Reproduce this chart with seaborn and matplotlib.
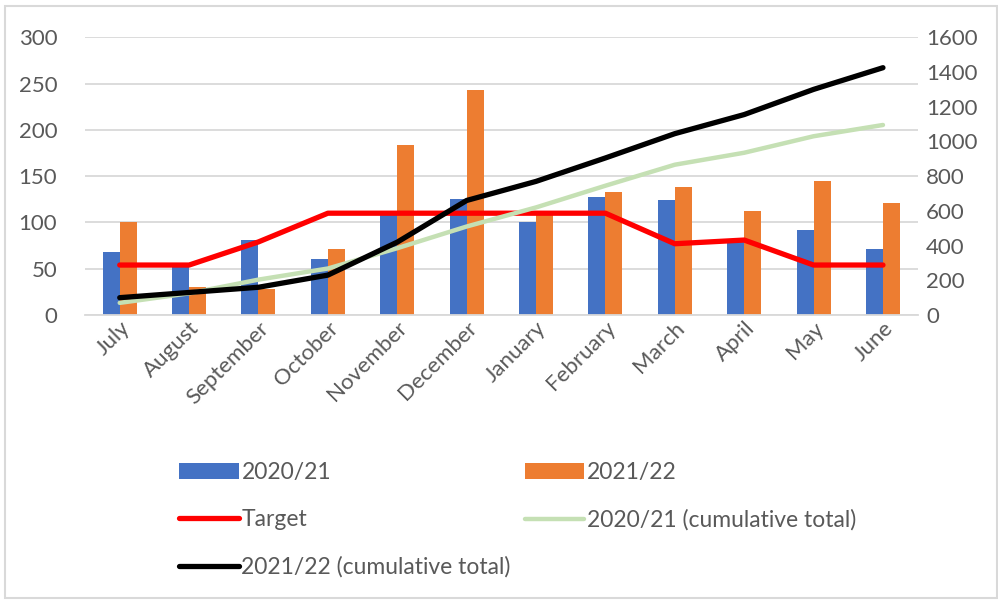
import numpy as np
import pandas as pd
import matplotlib
matplotlib.use("Agg")
import matplotlib.pyplot as plt
import seaborn as sns
from matplotlib.patches import Patch, Rectangle

months = ["July", "August", "September", "October", "November", "December",
          "January", "February", "March", "April", "May", "June"]
season_2021 = [68, 52, 81, 60, 110, 125, 101, 127, 124, 80, 92, 71]
season_2122 = [100, 30, 28, 71, 184, 243, 110, 133, 138, 112, 145, 121]
target = [54, 54, 79, 110, 110, 110, 110, 110, 77, 81, 54, 54]
cum_2021 = [70, 125, 204, 268, 385, 510, 620, 745, 866, 935, 1030, 1095]
cum_2122 = [100, 130, 160, 230, 420, 660, 770, 905, 1045, 1155, 1300, 1425]

left_ticks = [0, 50, 100, 150, 200, 250, 300]
right_ticks = [0, 200, 400, 600, 800, 1000, 1200, 1400, 1600]

blue = "#4472C4"
orange = "#ED7D31"
grey_text = "#595959"
grid_col = "#D9D9D9"

sns.set_theme(style="white")
plt.rcParams["font.family"] = ["Lato", "DejaVu Sans"]

df = pd.DataFrame({
    "month": months * 2,
    "value": season_2021 + season_2122,
    "season": ["2020/21"] * 12 + ["2021/22"] * 12,
})

fig = plt.figure(figsize=(9.98, 6.02), dpi=100)
ax = fig.add_axes([0.0852, 0.4767, 0.8343, 0.4613])

# bars (primary axis)
sns.barplot(data=df, x="month", y="value", hue="season", palette=[blue, orange],
            width=0.49, saturation=1, gap=0, linewidth=0, legend=False, ax=ax,
            zorder=2)

pos = np.arange(len(months))
# target line on primary axis
sns.lineplot(x=pos, y=target, color="#FF0000", linewidth=3.8, ax=ax,
             legend=False, zorder=3)
ax.lines[-1].set_solid_capstyle("round")
ax.lines[-1].set_solid_joinstyle("round")

ax.set_ylim(0, 300)
ax.set_xlim(-0.5, len(months) - 0.5)
ax.set_yticks(left_ticks)
ax.yaxis.grid(True, color=grid_col, linewidth=1.3)
ax.set_axisbelow(True)
ax.set_xlabel("")
ax.set_ylabel("")
for s in ["top", "right", "left"]:
    ax.spines[s].set_visible(False)
ax.spines["bottom"].set_color(grid_col)
ax.spines["bottom"].set_linewidth(1.3)
ax.tick_params(axis="y", length=0, pad=20, labelsize=16, labelcolor=grey_text)
ax.tick_params(axis="x", length=0, pad=2, labelsize=16, labelcolor=grey_text)
ax.set_xticks(pos)
ax.set_xticklabels(months, rotation=45, ha="right", rotation_mode="anchor")

# cumulative totals (secondary axis)
ax2 = ax.twinx()
sns.lineplot(x=pos, y=cum_2021, color="#C5E0B4", linewidth=3.2, ax=ax2, legend=False)
sns.lineplot(x=pos, y=cum_2122, color="black", linewidth=3.8, ax=ax2, legend=False)
for ln in ax2.lines:
    ln.set_solid_capstyle("round")
    ln.set_solid_joinstyle("round")
ax2.set_ylim(0, 1600)
ax2.set_yticks(right_ticks)
ax2.set_ylabel("")
ax2.grid(False)
for s in ["top", "right", "left", "bottom"]:
    ax2.spines[s].set_visible(False)
ax2.tick_params(axis="y", length=0, pad=6, labelsize=16, labelcolor=grey_text)

# legend in Excel-like row order
h_blue = Patch(facecolor=blue, edgecolor="none")
h_orange = Patch(facecolor=orange, edgecolor="none")
h_target = ax.lines[-1]
h_green = ax2.lines[0]
h_black = ax2.lines[1]
handles = [h_blue, h_target, h_black, h_orange, h_green]
labels = ["2020/21", "Target", "2021/22 (cumulative total)", "2021/22",
          "2020/21 (cumulative total)"]
leg = fig.legend(handles, labels, ncol=2, loc="upper left",
                 bbox_to_anchor=(0.168, 0.252), frameon=False, borderpad=0,
                 fontsize=16.5, handlelength=2.6, handletextpad=0.12,
                 labelspacing=1.15, columnspacing=0.6)
for t in leg.get_texts():
    t.set_color(grey_text)

fig.patches.append(Rectangle((0.005, 0.007), 0.994, 0.983, transform=fig.transFigure,
                             fill=False, edgecolor=grid_col, linewidth=1.5))

plt.savefig("out.png", dpi=100)
